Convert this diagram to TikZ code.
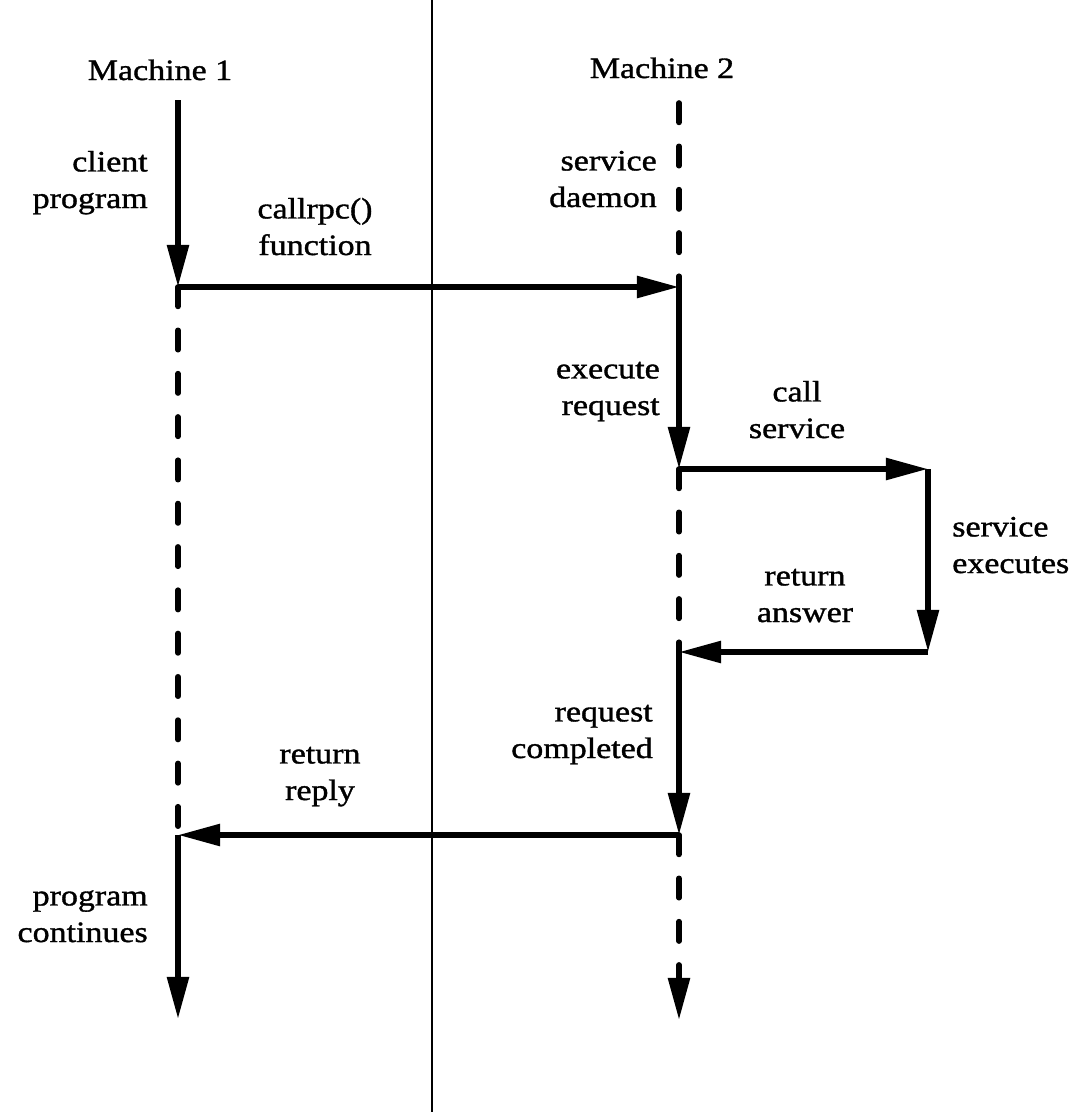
\documentclass[tikz,border=0pt]{standalone}
\usepackage{fontspec}
\setmainfont{Liberation Serif}[FakeStretch=1.15,FakeBold=1.2]
\usetikzlibrary{arrows.meta}

\begin{document}
\begin{tikzpicture}[x=0.025cm, y=-0.025cm,
  >={Triangle[length=30pt,width=15pt]},
  every node/.style={font=\fontsize{21}{26}\selectfont, inner sep=0pt},
  flow/.style={line width=4pt},
  idle/.style={line width=4pt, line cap=round, dash pattern=on 13.8pt off 17pt},
  wall/.style={line width=1.8pt}]
    \useasboundingbox (0,0) rectangle (1073,1112);
    % divisoria entre as maquinas
    \coordinate (walltop) at (432,0);
    \coordinate (wallbot) at (432,1112);
    \draw[wall] (walltop) -- (wallbot);

    % pontos da maquina 1
    \coordinate (m1top) at (178,100);
    \coordinate (m1call) at (178,287);
    \coordinate (m1reply) at (178,835);
    \coordinate (m1end) at (178,1019);
    % pontos da maquina 2
    \coordinate (m2top) at (679,103);
    \coordinate (m2call) at (679,287);
    \coordinate (m2exec) at (679,469);
    \coordinate (m2ans) at (679,652);
    \coordinate (m2done) at (679,835);
    \coordinate (m2end) at (679,1020);
    % o servico em si
    \coordinate (svcin) at (928,469);
    \coordinate (svcout) at (928,652);

    \node[anchor=base] (m1name) at (160,80) {Machine 1};
    \node[anchor=base] (m2name) at (662,78) {Machine 2};

    % linhas de tempo
    \draw[flow,->] (m1top) -- (m1call);
    \draw[idle] (m1call) -- (m1reply);
    \draw[flow,->] (m1reply) -- (m1end);
    \draw[idle] (m2top) -- (m2call);
    \draw[flow,->] (m2call) -- (m2exec);
    \draw[idle] (m2exec) -- (m2ans);
    \draw[flow,->] (m2ans) -- (m2done);
    \draw[idle,->] (m2done) -- (m2end);

    % mensagens
    \draw[flow,->] (m1call) -- (m2call);
    \draw[flow,->] (m2exec) -- (svcin);
    \draw[flow,->] (svcin) -- (svcout);
    \draw[flow,->] (svcout) -- (m2ans);
    \draw[flow,->] (m2done) -- (m1reply);

    % textos (base = ultima linha)
    \node[anchor=base east, align=right] (clientlbl) at (148,208) {client\\program};
    \node[anchor=base, align=center] (callrpclbl) at (315,255) {callrpc()\\function};
    \node[anchor=base east, align=right] (daemonlbl) at (657,207) {service\\daemon};
    \node[anchor=base east, align=right] (execlbl) at (660,415) {execute\\request};
    \node[anchor=base, align=center] (calllbl) at (797,438) {call\\service};
    \node[anchor=base west, align=left] (runlbl) at (952,573) {service\\executes};
    \node[anchor=base, align=center] (answerlbl) at (805,622) {return\\answer};
    \node[anchor=base east, align=right] (donelbl) at (653,758) {request\\completed};
    \node[anchor=base, align=center] (replylbl) at (320,800) {return\\reply};
    \node[anchor=base east, align=right] (contlbl) at (148,942) {program\\continues};
\end{tikzpicture}
\end{document}
